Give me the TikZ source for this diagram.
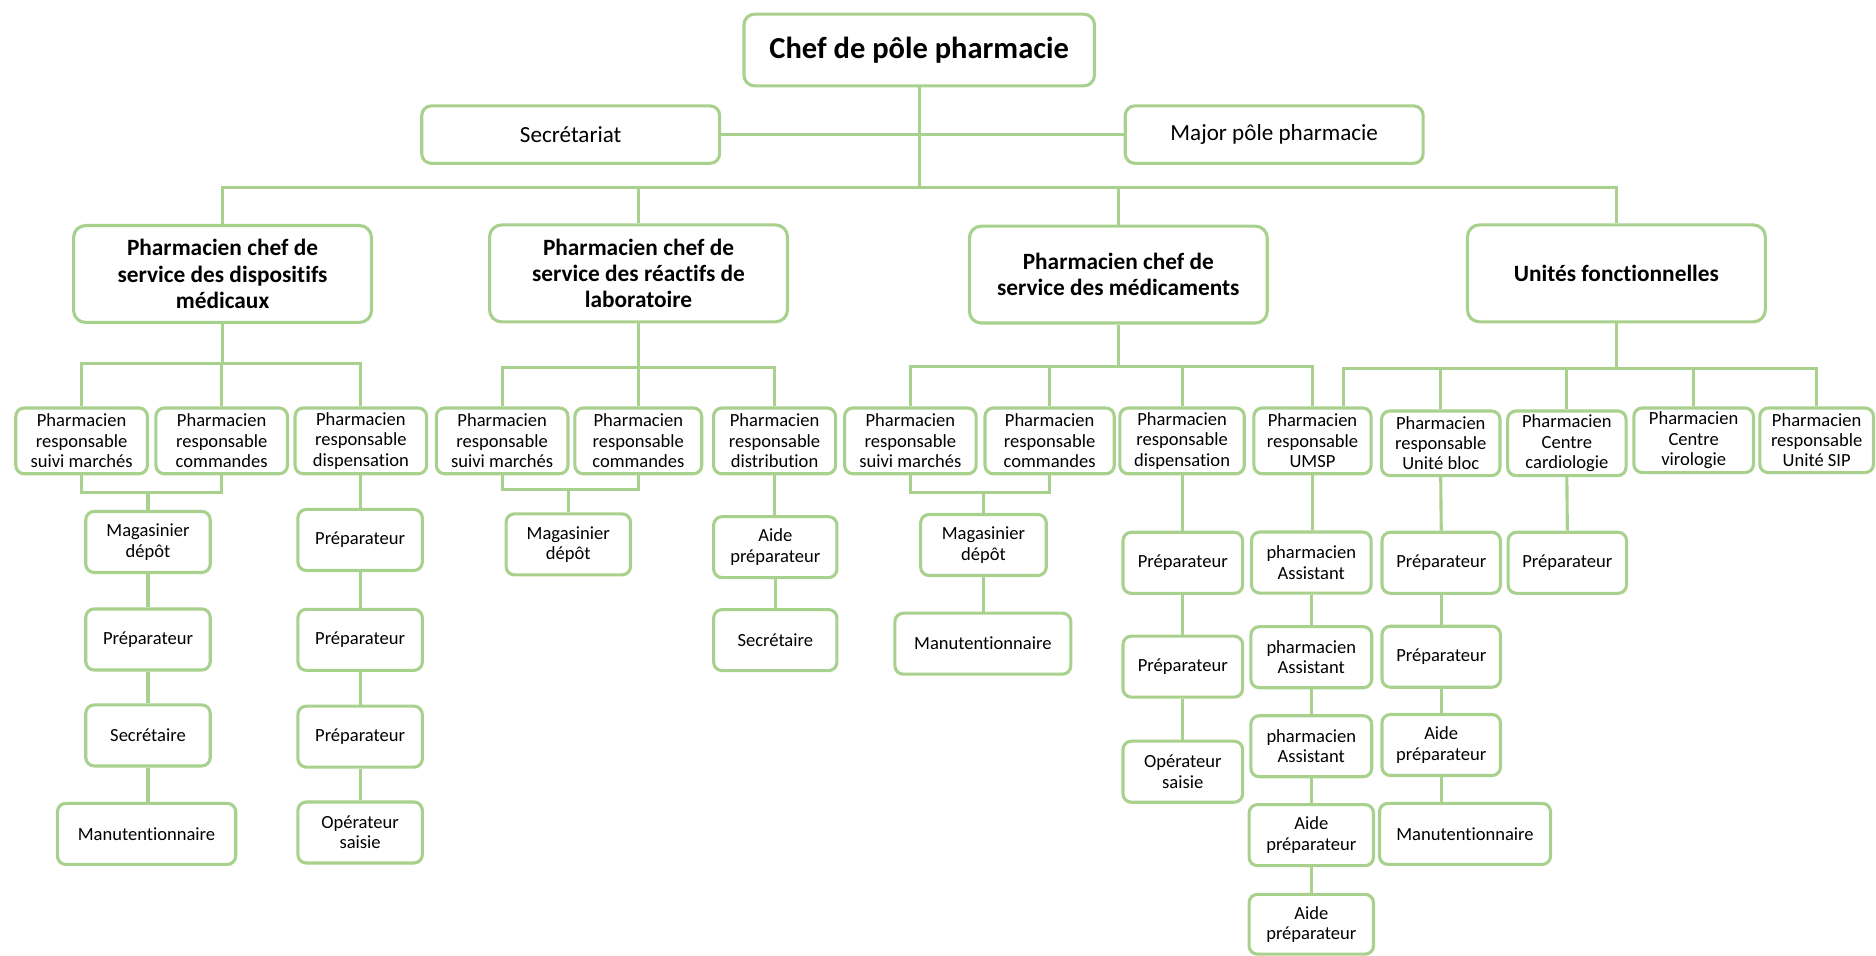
\documentclass[tikz,border=0pt]{standalone}
\usepackage{fontspec}
\setmainfont{Carlito}[Ligatures=NoCommon]
\definecolor{lgreen}{RGB}{169,209,142}
\begin{document}
\begin{tikzpicture}[x=1pt,y=-1pt,
  link/.style={draw=lgreen, line width=2.6pt},
  box/.style={draw=lgreen, line width=2.6pt, rounded corners=7pt, fill=white,
    align=center, inner sep=0pt, font=\fontsize{15.5}{17}\selectfont,
    minimum height=51pt},
  rolebox/.style={box, minimum height=55pt},
  headbox/.style={box, rounded corners=10pt, minimum width=249pt, minimum height=81pt,
    font=\fontsize{19.5}{22}\selectfont\bfseries},
  topbox/.style={box, rounded corners=8pt, minimum width=249pt, minimum height=48pt,
    font=\fontsize{19.3}{23}\selectfont},
]
\useasboundingbox (0,0) rectangle (1568,799);

% ---- top level ----
\node[box, rounded corners=9pt, minimum width=293pt, minimum height=60pt,
  font=\fontsize{25.5}{30}\selectfont\bfseries] (chef) at (768.3,41.8) {Chef de pôle pharmacie};
\node[topbox] (sec) at (477,112.5) {Secrétariat};
\node[topbox] (maj) at (1065,112.5) {Major pôle pharmacie};

% ---- services ----
\node[headbox] (A) at (186,229) {Pharmacien chef de\\service des dispositifs\\médicaux};
\node[headbox] (B) at (533.7,228.5) {Pharmacien chef de\\service des réactifs de\\laboratoire};
\node[headbox] (C) at (934.7,229.5) {Pharmacien chef de\\service des médicaments};
\node[headbox] (D) at (1351,228.5) {Unités fonctionnelles};

% ---- responsible pharmacists ----
\node[rolebox, minimum width=110pt] (A1) at (68.2,368.5) {Pharmacien\\responsable\\suivi marchés};
\node[rolebox, minimum width=110pt] (A2) at (185.3,368.5) {Pharmacien\\responsable\\commandes};
\node[rolebox, minimum width=110pt] (A3) at (301.6,368.5) {Pharmacien\\responsable\\dispensation};
\node[rolebox, minimum width=110pt] (B1) at (419.7,368.5) {Pharmacien\\responsable\\suivi marchés};
\node[rolebox, minimum width=106pt] (B2) at (533.5,368.5) {Pharmacien\\responsable\\commandes};
\node[rolebox, minimum width=102pt] (B3) at (647.4,368.5) {Pharmacien\\responsable\\distribution};
\node[rolebox, minimum width=110pt] (C1) at (760.9,368.5) {Pharmacien\\responsable\\suivi marchés};
\node[rolebox, minimum width=108pt] (C2) at (877.3,368.5) {Pharmacien\\responsable\\commandes};
\node[rolebox, minimum width=104pt] (C5) at (988,368.5) {Pharmacien\\responsable\\dispensation};
\node[rolebox, minimum width=98pt] (C6) at (1097,368.5) {Pharmacien\\responsable\\UMSP};
\node[rolebox, minimum width=99pt, minimum height=54pt] (D1) at (1204.2,370.5) {Pharmacien\\responsable\\Unité bloc};
\node[rolebox, minimum width=99pt, minimum height=54pt] (D2) at (1309.6,370.5) {Pharmacien\\Centre\\cardiologie};
\node[rolebox, minimum width=100pt, minimum height=54pt] (D3) at (1415.6,368) {Pharmacien\\Centre\\virologie};
\node[rolebox, minimum width=95pt, minimum height=54pt] (D4) at (1518.4,368) {Pharmacien\\responsable\\Unité SIP};

% ---- medical devices staff ----
\node[box, minimum width=104pt] (A4) at (123.7,453) {Magasinier\\dépôt};
\node[box, minimum width=104pt] (A5) at (123.7,534.5) {Préparateur};
\node[box, minimum width=104pt] (A6) at (123.7,614.7) {Secrétaire};
\node[box, minimum width=149pt] (A7) at (122.5,697) {Manutentionnaire};
\node[box, minimum width=104pt] (A8) at (301,451.3) {Préparateur};
\node[box, minimum width=104pt] (A9) at (301,534.8) {Préparateur};
\node[box, minimum width=104pt] (A10) at (301,615.7) {Préparateur};
\node[box, minimum width=104pt] (A11) at (301,695.8) {Opérateur\\saisie};

% ---- laboratory reagents staff ----
\node[box, minimum width=104pt] (B4) at (475,455) {Magasinier\\dépôt};
\node[box, minimum width=103pt] (B5) at (648,457.3) {Aide\\préparateur};
\node[box, minimum width=103pt] (B6) at (648,535) {Secrétaire};

% ---- medicines staff ----
\node[box, minimum width=105pt] (C3) at (822,455.5) {Magasinier\\dépôt};
\node[box, minimum width=147pt] (C4) at (821.5,538) {Manutentionnaire};
\node[box, minimum width=100pt] (C7) at (988.6,470.4) {Préparateur};
\node[box, minimum width=100pt] (C9) at (988.6,557.2) {Préparateur};
\node[box, minimum width=100pt] (C10) at (988.6,645) {Opérateur\\saisie};
\node[box, minimum width=100pt] (C8) at (1096,470.2) {pharmacien\\Assistant};
\node[box, minimum width=101pt] (C11) at (1096,549.3) {pharmacien\\Assistant};
\node[box, minimum width=101pt] (C12) at (1096,623.7) {pharmacien\\Assistant};
\node[box, minimum width=104pt] (C13) at (1096,698) {Aide\\préparateur};
\node[box, minimum width=104pt, minimum height=50pt] (C14) at (1096,772.5) {Aide\\préparateur};

% ---- functional units staff ----
\node[box, minimum width=99pt] (D5) at (1204.6,470.4) {Préparateur};
\node[box, minimum width=99pt] (D6) at (1310,470.4) {Préparateur};
\node[box, minimum width=99pt] (D8) at (1204.6,548.9) {Préparateur};
\node[box, minimum width=99pt] (D9) at (1204.6,622.7) {Aide\\préparateur};
\node[box, minimum width=143pt] (D10) at (1224.5,697) {Manutentionnaire};

% ---- bus levels ----
\coordinate (yL2) at (0,156.6);
\coordinate (yA) at (0,304);
\coordinate (yAb) at (0,411.5);
\coordinate (yB) at (0,307);
\coordinate (yBb) at (0,409.5);
\coordinate (yC) at (0,306);
\coordinate (yCb) at (0,411.5);
\coordinate (yD) at (0,308);
\coordinate (xU) at (1123,0);

% ---- top connectors ----
\draw[link] (sec.east) -- (maj.west);
\draw[link] (chef.south) -- (chef.south |- yL2);
\draw[link] (A.north) -- (A.north |- yL2) -| (D.north);
\draw[link] (B.north) -- (B.north |- yL2);
\draw[link] (C.north) -- (C.north |- yL2);

% ---- medical devices branch ----
\draw[link] (A.south) -- (A.south |- yA);
\draw[link] (A1.north) -- (A1.north |- yA) -| (A3.north);
\draw[link] (A2.north) -- (A2.north |- yA);
\draw[link] (A1.south) -- (A1.south |- yAb) -| (A2.south);
\draw[link] (A4.north) -- (A4.north |- yAb);
\draw[link] (A4.south) -- (A5.north);
\draw[link] (A5.south) -- (A6.north);
\draw[link] (A6.south) -- (A6.south |- A7.north);
\draw[link] (A3.south) -- (A3.south |- A8.north);
\draw[link] (A8.south) -- (A9.north);
\draw[link] (A9.south) -- (A10.north);
\draw[link] (A10.south) -- (A11.north);

% ---- laboratory reagents branch ----
\draw[link] (B.south) -- (B.south |- yB);
\draw[link] (B1.north) -- (B1.north |- yB) -| (B3.north);
\draw[link] (B2.north) -- (B2.north |- yB);
\draw[link] (B1.south) -- (B1.south |- yBb) -| (B2.south);
\draw[link] (B4.north) -- (B4.north |- yBb);
\draw[link] (B3.south) -- (B3.south |- B5.north);
\draw[link] (B5.south) -- (B6.north);

% ---- medicines branch ----
\draw[link] (C.south) -- (C.south |- yC);
\draw[link] (C1.north) -- (C1.north |- yC) -| (C6.north);
\draw[link] (C2.north) -- (C2.north |- yC);
\draw[link] (C5.north) -- (C5.north |- yC);
\draw[link] (C1.south) -- (C1.south |- yCb) -| (C2.south);
\draw[link] (C3.north) -- (C3.north |- yCb);
\draw[link] (C3.south) -- (C3.south |- C4.north);
\draw[link] (C5.south) -- (C5.south |- C7.north);
\draw[link] (C7.south) -- (C9.north);
\draw[link] (C9.south) -- (C10.north);
\draw[link] (C6.south) -- (C6.south |- C8.north);
\draw[link] (C8.south) -- (C11.north);
\draw[link] (C11.south) -- (C12.north);
\draw[link] (C12.south) -- (C13.north);
\draw[link] (C13.south) -- (C14.north);

% ---- functional units branch ----
\draw[link] (D.south) -- (D.south |- yD);
\draw[link] (C6.north -| xU) -- (xU |- yD) -| (D4.north);
\draw[link] (D1.north) -- (D1.north |- yD);
\draw[link] (D2.north) -- (D2.north |- yD);
\draw[link] (D3.north) -- (D3.north |- yD);
\draw[link] (D1.south) -- (D5.north);
\draw[link] (D5.south) -- (D8.north);
\draw[link] (D8.south) -- (D9.north);
\draw[link] (D9.south) -- (D9.south |- D10.north);
\draw[link] (D2.south) -- (D6.north);
\end{tikzpicture}
\end{document}
